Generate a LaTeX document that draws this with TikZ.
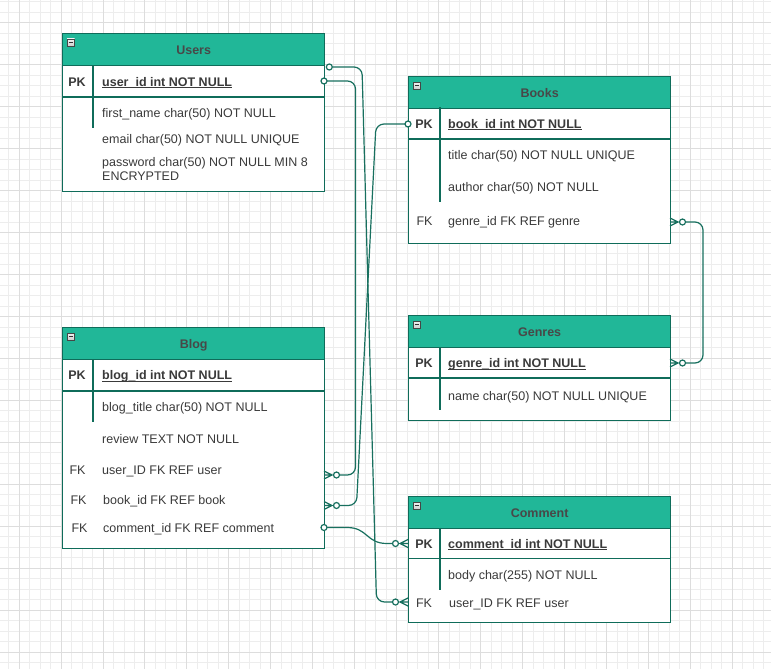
\documentclass[tikz,border=0pt]{standalone}
\usepackage{fontspec}
\setmainfont{Liberation Sans}
\usetikzlibrary{calc}
\definecolor{hdrfill}{RGB}{33,183,152}
\definecolor{bord}{RGB}{15,108,90}
\definecolor{edgec}{RGB}{24,112,95}
\definecolor{txt}{RGB}{58,58,58}
\definecolor{htxt}{RGB}{72,72,72}
\definecolor{gmin}{RGB}{237,237,237}
\definecolor{gmaj}{RGB}{221,221,221}
\begin{document}
\begin{tikzpicture}[x=1pt,y=-1pt,
  tbl/.style={draw=bord, line width=1.3pt, fill=white, anchor=north west, minimum width=262pt, inner sep=0pt},
  hdr/.style={draw=bord, line width=1.3pt, fill=hdrfill, anchor=north west, minimum width=262pt, minimum height=32pt, inner sep=0pt, font=\fontsize{12.5}{14}\selectfont\bfseries, text=htxt, text height=8.95pt, text depth=0pt},
  fld/.style={anchor=base west, inner sep=0pt, font=\fontsize{12.5}{14}\selectfont, text=txt},
  pkfld/.style={anchor=base west, inner sep=0pt, font=\fontsize{12.5}{14}\selectfont\bfseries, text=txt},
  keyl/.style={anchor=base, inner sep=0pt, font=\fontsize{12.5}{14}\selectfont, text=txt},
  pkkey/.style={anchor=base, inner sep=0pt, font=\fontsize{12.5}{14}\selectfont\bfseries, text=txt},
  sepline/.style={draw=bord, line width=1.3pt},
  uline/.style={draw=txt, line width=1.1pt},
  conn/.style={draw=edgec, line width=1.2pt, rounded corners=8pt},
  ring/.style={draw=edgec, line width=1.2pt, fill=white},
  collapse/.pic={
    \draw[draw=gray!55!black, line width=0.6pt, top color=gray!10, bottom color=gray!40] (0,0) rectangle (7.6,7.6);
    \draw[black!80, line width=1.3pt] (1.9,3.8) -- (5.7,3.8);
  },
  crowfoot/.pic={
    \draw[edgec, line width=1.2pt] (0,-4) -- (-8,0) -- (0,4) (-8,0) -- (0,0);
    \draw[edgec, line width=1.2pt, fill=white] (-12.5,0) circle[radius=3pt];
  }
]
\useasboundingbox (0,0) rectangle (771,669);
\fill[white] (0,0) rectangle (771,669);
% grid
\foreach \k in {0,...,63} \draw[gmin, line width=0.8pt] (0,{1.72+\k*10.49}) -- (771,{1.72+\k*10.49});
\foreach \k in {0,...,72} \draw[gmin, line width=0.8pt] ({8.51+\k*10.49},0) -- ({8.51+\k*10.49},669);
\foreach \k in {2,6,...,62} \draw[gmaj, line width=0.8pt] (0,{1.72+\k*10.49}) -- (771,{1.72+\k*10.49});
\foreach \k in {1,5,...,69} \draw[gmaj, line width=0.8pt] ({8.51+\k*10.49},0) -- ({8.51+\k*10.49},669);

% ---------- Users ----------
\node[tbl, minimum height=158pt] (users) at (62,33) {};
\node[hdr] (usersH) at (62,33) {Users};
\pic at ($(usersH.north west)+(5,6)$) {collapse};
\draw[sepline] (62,97) -- (324,97);
\draw[sepline] (93,66) -- (93,128);
\node[pkkey] (uk1) at (77,86) {PK};
\node[pkfld] (uf1) at (102,86) {user\_id int NOT NULL};
\draw[uline] ($(uf1.base west)+(0,1.6)$) -- ($(uf1.base east)+(0,1.6)$);
\node[fld] (uf2) at (102,117) {first\_name char(50) NOT NULL};
\node[fld] (uf3) at (102,143) {email char(50) NOT NULL UNIQUE};
\node[fld, anchor=west, align=left] (uf4) at (102,169) {password char(50) NOT NULL MIN 8\\ENCRYPTED};

% ---------- Books ----------
\node[tbl, minimum height=167pt] (books) at (408,76) {};
\node[hdr] (booksH) at (408,76) {Books};
\pic at ($(booksH.north west)+(5,6)$) {collapse};
\draw[sepline] (408,139) -- (670,139);
\draw[sepline] (440,107) -- (440,202);
\node[pkkey] (bk1) at (424,128) {PK};
\node[pkfld] (bf1) at (448,128) {book\_id int NOT NULL};
\draw[uline] ($(bf1.base west)+(0,1.6)$) -- ($(bf1.base east)+(0,1.6)$);
\node[fld] (bf2) at (448,159.5) {title char(50) NOT NULL UNIQUE};
\node[fld] (bf3) at (448,191) {author char(50) NOT NULL};
\node[keyl] (bk4) at (424.5,225.5) {FK};
\node[fld] (bf4) at (448,225.5) {genre\_id FK REF genre};

% ---------- Genres ----------
\node[tbl, minimum height=105pt] (genres) at (408,315) {};
\node[hdr] (genresH) at (408,315) {Genres};
\pic at ($(genresH.north west)+(5,6)$) {collapse};
\draw[sepline] (408,378) -- (670,378);
\draw[sepline] (440,347) -- (440,410);
\node[pkkey] (gk1) at (424,367.5) {PK};
\node[pkfld] (gf1) at (448,367.5) {genre\_id int NOT NULL};
\draw[uline] ($(gf1.base west)+(0,1.6)$) -- ($(gf1.base east)+(0,1.6)$);
\node[fld] (gf2) at (448,400) {name char(50) NOT NULL UNIQUE};

% ---------- Blog ----------
\node[tbl, minimum height=221pt] (blog) at (62,327) {};
\node[hdr] (blogH) at (62,327) {Blog};
\pic at ($(blogH.north west)+(5,6)$) {collapse};
\draw[sepline] (62,391) -- (324,391);
\draw[sepline] (93,360) -- (93,422);
\node[pkkey] (lk1) at (77,379.5) {PK};
\node[pkfld] (lf1) at (102,379.5) {blog\_id int NOT NULL};
\draw[uline] ($(lf1.base west)+(0,1.6)$) -- ($(lf1.base east)+(0,1.6)$);
\node[fld] (lf2) at (102,411) {blog\_title char(50) NOT NULL};
\node[fld] (lf3) at (102,443) {review TEXT NOT NULL};
\node[keyl] (lk4) at (77.5,474) {FK};
\node[fld] (lf4) at (102,474) {user\_ID FK REF user};
\node[keyl] (lk5) at (78.5,504.5) {FK};
\node[fld] (lf5) at (103,504.5) {book\_id FK REF book};
\node[keyl] (lk6) at (79.5,532) {FK};
\node[fld] (lf6) at (103,532) {comment\_id FK REF comment};

% ---------- Comment ----------
\node[tbl, minimum height=126pt] (comment) at (408,496) {};
\node[hdr] (commentH) at (408,496) {Comment};
\pic at ($(commentH.north west)+(5,6)$) {collapse};
\draw[sepline] (408,558.5) -- (670,558.5);
\draw[sepline] (440,527.5) -- (440,590);
\node[pkkey] (ck1) at (424,548) {PK};
\node[pkfld] (cf1) at (448,548) {comment\_id int NOT NULL};
\draw[uline] ($(cf1.base west)+(0,1.6)$) -- ($(cf1.base east)+(0,1.6)$);
\node[fld] (cf2) at (448,579.5) {body char(255) NOT NULL};
\node[keyl] (ck3) at (424,607) {FK};
\node[fld] (cf3) at (449,607) {user\_ID FK REF user};

% ---------- ports ----------
\coordinate (pUsersA) at (329.3,67);
\coordinate (pUsersB) at (324,81);
\coordinate (pBooksPK) at (408,124);
\coordinate (pBooksFK) at (670,222);
\coordinate (pGenresPK) at (670,363);
\coordinate (pBlogUser) at (324,475);
\coordinate (pBlogBook) at (324,505.5);
\coordinate (pBlogComm) at (324,527.5);
\coordinate (pCommPK) at (408,543.5);
\coordinate (pCommFK) at (408,602);

% ---------- connectors ----------
% Users -> Comment.user_ID
\draw[conn] ($(pUsersA)+(3,0)$) -- (362,67) -- (376.5,602) -- ($(pCommFK)+(-15.5,0)$);
% Users -> Blog.user_ID
\draw[conn] ($(pUsersB)+(3,0)$) -- (355.5,81) -- (355.5,475) -- ($(pBlogUser)+(15.5,0)$);
% Books -> Blog.book_id
\draw[conn] ($(pBooksPK)+(-3,0)$) -- (376,124) -- (356.5,505.5) -- ($(pBlogBook)+(15.5,0)$);
% Blog.comment_id -> Comment
\draw[edgec, line width=1.2pt] ($(pBlogComm)+(3,0)$) -- (347,527.5) .. controls (368,527.5) and (366,543.5) .. (387,543.5) -- ($(pCommPK)+(-15.5,0)$);
% Books.genre_id -> Genres
\draw[conn] ($(pBooksFK)+(15.5,0)$) -- (703,222) -- (703,363) -- ($(pGenresPK)+(15.5,0)$);

% end markers
\draw[ring] (pUsersA) circle[radius=3pt];
\draw[ring] (pUsersB) circle[radius=3pt];
\draw[ring] (pBooksPK) circle[radius=3pt];
\draw[ring] (pBlogComm) circle[radius=3pt];
\pic at (pCommFK) {crowfoot};
\pic at (pCommPK) {crowfoot};
\pic[rotate=180] at (pBlogUser) {crowfoot};
\pic[rotate=180] at (pBlogBook) {crowfoot};
\pic[rotate=180] at (pBooksFK) {crowfoot};
\pic[rotate=180] at (pGenresPK) {crowfoot};
\end{tikzpicture}
\end{document}
